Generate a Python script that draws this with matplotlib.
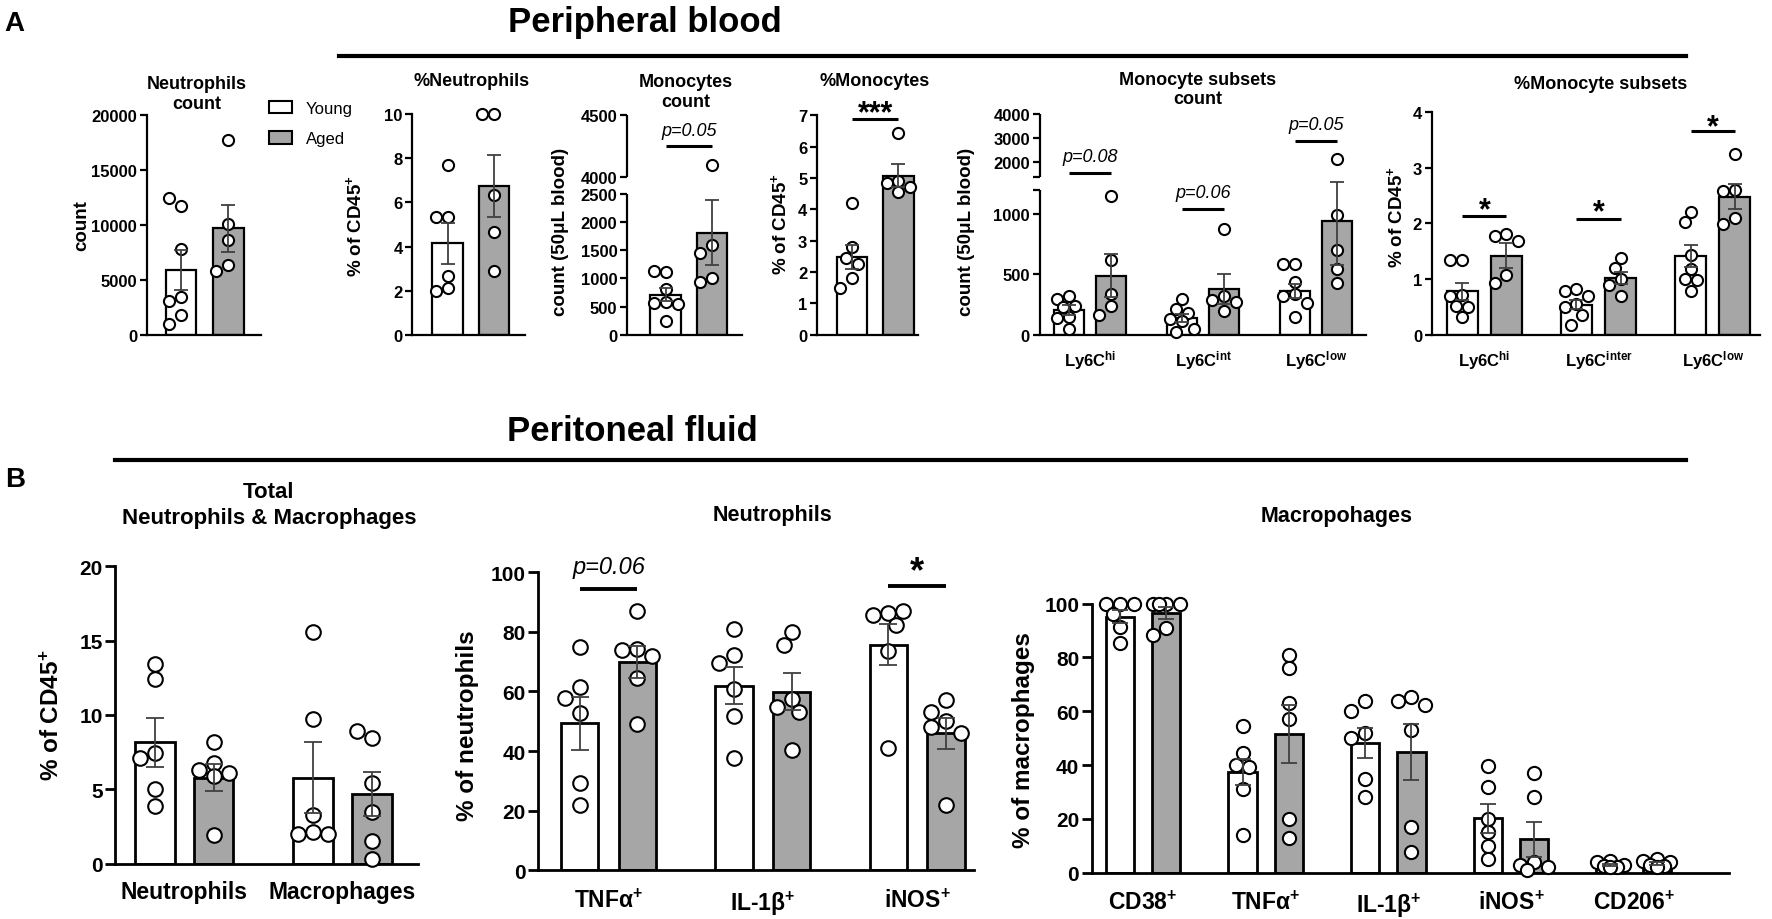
import numpy as np
import matplotlib
matplotlib.use('Agg')
import matplotlib.pyplot as plt
from matplotlib.patches import Patch
from matplotlib.lines import Line2D
from matplotlib.font_manager import FontProperties

plt.rcParams['mathtext.default'] = 'regular'
SANS = ['Liberation Sans', 'DejaVu Sans']
plt.rcParams['font.family'] = SANS

GRAY = '#a6a6a6'
ECOL = '#404040'

# ======================= DATA =======================
groups = ['Young', 'Aged']

# A1 Neutrophils count
a1_ticks = [0, 5000, 10000, 15000, 20000]
a1_mean_y = [5900]; a1_sem_y = [1800]
a1_mean_a = [9700]; a1_sem_a = [2150]
a1_pts_y = [[11700, 12500, 7800, 3400, 3100, 1800, 1000]]
a1_pts_a = [[17800, 10100, 8600, 6400, 5800]]

# A2 %Neutrophils
a2_ticks = [0, 2, 4, 6, 8, 10]
a2_mean_y = [4.15]; a2_sem_y = [0.93]
a2_mean_a = [6.75]; a2_sem_a = [1.40]
a2_pts_y = [[7.7, 5.35, 5.35, 2.65, 2.1, 2.0]]
a2_pts_a = [[10, 10, 6.35, 4.65, 2.9]]

# A3 Monocytes count (broken axis)
a3_ticks = [0, 500, 1000, 1500, 2000, 2500, 4000, 4500]
a3_mean_y = [710]; a3_sem_y = [120]
a3_mean_a = [1815]; a3_sem_a = [580]
a3_pts_y = [[1120, 1140, 820, 580, 570, 540, 240]]
a3_pts_a = [[4100, 1590, 1450, 1000, 940]]
a3_sig = ['p=0.05']; a3_sig_line = [4250]; a3_sig_text = [4380]

# A4 %Monocytes
a4_ticks = [0, 1, 2, 3, 4, 5, 6, 7]
a4_mean_y = [2.48]; a4_sem_y = [0.38]
a4_mean_a = [5.08]; a4_sem_a = [0.36]
a4_pts_y = [[4.2, 2.8, 2.45, 2.25, 1.8, 1.5]]
a4_pts_a = [[6.45, 4.9, 4.85, 4.7, 4.55]]
a4_sig = ['***']; a4_sig_line = [6.89]; a4_sig_text = [7.37]

# A5 Monocyte subsets count (broken axis)
a5_cats = ['Ly6C$^{hi}$', 'Ly6C$^{int}$', 'Ly6C$^{low}$']
a5_ticks = [0, 500, 1000, 1200, 1400, 2000, 3000, 4000]
a5_ticklabels = ['0', '500', '1000', '', '', '2000', '3000', '4000']
a5_mean_y = [205, 140, 365]; a5_sem_y = [38, 35, 60]
a5_mean_a = [490, 380, 945]; a5_sem_a = [180, 125, 370]
a5_pts_y = [[320, 300, 240, 230, 150, 140, 45],
            [300, 210, 180, 130, 110, 50, 25],
            [585, 585, 435, 335, 320, 265, 150]]
a5_pts_a = [[1150, 620, 335, 240, 165],
            [880, 320, 290, 270, 200],
            [2150, 990, 700, 545, 430]]
a5_sig = ['p=0.08', 'p=0.06', 'p=0.05']
a5_sig_line = [1540, 1047, 2896]
a5_sig_text = [2240, 1179, 3570]

# A6 %Monocyte subsets
a6_cats = ['Ly6C$^{hi}$', 'Ly6C$^{inter}$', 'Ly6C$^{low}$']
a6_ticks = [0, 1, 2, 3, 4]
a6_mean_y = [0.78, 0.54, 1.42]; a6_sem_y = [0.15, 0.08, 0.20]
a6_mean_a = [1.42, 1.02, 2.48]; a6_sem_a = [0.23, 0.11, 0.22]
a6_pts_y = [[1.35, 1.35, 0.72, 0.70, 0.52, 0.50, 0.32],
            [0.82, 0.78, 0.70, 0.55, 0.50, 0.35, 0.18],
            [2.2, 2.02, 1.43, 1.18, 1.0, 0.98, 0.79]]
a6_pts_a = [[1.81, 1.77, 1.68, 1.07, 0.92],
            [1.38, 1.2, 1.0, 0.9, 0.7],
            [3.25, 2.6, 2.58, 2.09, 1.98]]
a6_sig = ['*', '*', '*']
a6_sig_line = [2.13, 2.07, 3.66]
a6_sig_text = [2.41, 2.38, 3.90]

# B1 Total neutrophils & macrophages
b1_cats = ['Neutrophils', 'Macrophages']
b1_ticks = [0, 5, 10, 15, 20]
b1_mean_y = [8.18, 5.78]; b1_sem_y = [1.65, 2.38]
b1_mean_a = [5.78, 4.68]; b1_sem_a = [0.90, 1.50]
b1_pts_y = [[12.4, 13.4, 7.45, 7.1, 5.0, 3.9], [15.6, 9.7, 3.3, 2.1, 2.0, 2.0]]
b1_pts_a = [[8.2, 6.8, 6.3, 6.1, 5.9, 1.9], [8.45, 8.95, 5.45, 3.45, 1.5, 0.3]]

# B2 Neutrophils
b2_cats = ['TNFα$^{+}$', 'IL-1β$^{+}$', 'iNOS$^{+}$']
b2_ticks = [0, 20, 40, 60, 80, 100]
b2_mean_y = [49.3, 61.9, 75.7]; b2_sem_y = [8.8, 6.2, 6.8]
b2_mean_a = [69.8, 59.8, 46.0]; b2_sem_a = [5.3, 6.2, 5.2]
b2_pts_y = [[74.8, 61.5, 57.8, 52.6, 29.4, 22],
            [80.8, 72.3, 69.4, 60.9, 51.6, 37.6],
            [86.1, 85.6, 87, 82.3, 73.6, 41]]
b2_pts_a = [[86.8, 74.2, 73.8, 71.7, 64.5, 49],
            [80, 75.7, 57.3, 54.7, 53, 40.5],
            [57, 53, 50, 48, 46, 22]]
b2_sig = ['p=0.06', '*']
b2_sig_group = [0, 2]
b2_sig_line = [94.2, 95.4]
b2_sig_text = [101.8, 103.8]

# B3 Macrophages
b3_cats = ['CD38$^{+}$', 'TNFα$^{+}$', 'IL-1β$^{+}$', 'iNOS$^{+}$', 'CD206$^{+}$']
b3_ticks = [0, 20, 40, 60, 80, 100]
b3_mean_y = [95.2, 37.3, 48.2, 20.3, 3.0]; b3_sem_y = [2.4, 4.8, 5.6, 5.4, 0.4]
b3_mean_a = [96.5, 51.7, 44.9, 12.5, 3.5]; b3_sem_a = [2.1, 10.8, 10.5, 6.5, 0.5]
b3_pts_y = [[100, 100, 100, 96, 91.5, 85.5],
            [54.5, 44.6, 40.2, 39.4, 31, 14],
            [64, 60, 52, 50, 34.7, 28.2],
            [39.5, 32, 20, 15, 10, 5],
            [4.5, 4, 3, 2.5, 2, 2]]
b3_pts_a = [[100, 100, 100, 100, 91, 88.5],
            [81, 76, 63, 57, 20, 13],
            [65.3, 64, 62.5, 53, 17, 7.5],
            [37, 28, 4, 3, 2, 1],
            [5, 4.5, 4, 3, 2.5, 2]]

# ======================= LAYOUT HELPERS =======================
fig = plt.figure(figsize=(17.72, 9.2), dpi=100)
PW, PH = 1568.0, 814.0


def fx(x):
    return x / PW


def fy(y):
    return 1 - y / PH


def new_ax(x0, x1, ytop, ybot):
    ax = fig.add_axes([fx(x0), fy(ybot), fx(x1) - fx(x0), fy(ytop) - fy(ybot)])
    ax.set_xlim(x0, x1)
    ax.patch.set_alpha(0)
    return ax


def piecewise(vals, disp):
    v = np.asarray(vals, float)
    d = np.asarray(disp, float)
    return (lambda x: np.interp(x, v, d)), (lambda y: np.interp(y, d, v))


def style(ax, lw, fs, ticks, labels=None, tlen=5):
    ax.spines[['top', 'right']].set_visible(False)
    ax.spines[['left', 'bottom']].set_linewidth(lw)
    ax.tick_params(axis='y', width=lw, length=tlen, pad=2)
    ax.tick_params(axis='x', length=0)
    if labels is None:
        labels = [f'{t:g}' for t in ticks]
    ax.set_yticks(ticks, labels=labels, fontweight='bold', fontsize=fs)


def swarm_x(ax, xc, vals, d):
    tr = ax.transData
    inv = tr.inverted()
    placed = []
    out = []
    for v in vals:
        X, Y = tr.transform((xc, v))
        best, best_score = X, -1.0
        for k in (0, -0.45, 0.45, -0.9, 0.9):
            cand = X + k * d
            mind = min([np.hypot(cand - a, Y - b) for a, b in placed] + [1e9])
            if mind >= 0.85 * d:
                best = cand
                break
            if mind > best_score + 0.5:
                best, best_score = cand, mind
        placed.append((best, Y))
        out.append(inv.transform((best, Y))[0])
    return out


def draw_panel(ax, first, pair, gap, bw, my, sy, ma, sa, py, pa, ms, lw, cap):
    n = len(my)
    xy = [first + i * gap for i in range(n)]
    xa = [x + pair for x in xy]
    ax.bar(xy, my, width=bw, color='white', edgecolor='black', linewidth=lw, zorder=2)
    ax.bar(xa, ma, width=bw, color=GRAY, edgecolor='black', linewidth=lw, zorder=2)
    d = (ms + 1.5) * fig.dpi / 72.0
    for xs_, pts_ in ((xy, py), (xa, pa)):
        for xc, vals in zip(xs_, pts_):
            xj = swarm_x(ax, xc, vals, d)
            ax.plot(xj, vals, linestyle='none', marker='o', ms=ms, mfc='white',
                    mec='black', mew=1.5, zorder=3, clip_on=False)
    for xs_, m_, s_ in ((xy, my, sy), (xa, ma, sa)):
        ax.errorbar(xs_, m_, yerr=s_, fmt='none', ecolor=ECOL, elinewidth=1.3,
                    capsize=cap, capthick=1.3, zorder=4)
    return xy, xa


def sig(ax, x1, x2, yline, ytext, label, fs, lw):
    ax.plot([x1, x2], [yline, yline], color='black', lw=lw, solid_capstyle='butt',
            clip_on=False, zorder=5)
    xm = (x1 + x2) / 2
    if label.startswith('*'):
        ax.annotate(label, xy=(xm, ytext), xytext=(0, -0.58 * fs), textcoords='offset points',
                    ha='center', va='baseline', fontsize=fs, fontweight='bold',
                    annotation_clip=False)
    else:
        ax.text(xm, ytext, label, ha='center', va='center', fontsize=fs, style='italic',
                clip_on=False)


def ftext(x, y, s, fs, weight='bold', rot=0, ls=1.2, ha='center'):
    fig.text(fx(x), fy(y), s, ha=ha, va='center', fontsize=fs, fontweight=weight,
             rotation=rot, linespacing=ls)


def broken_spine(ax, segs, lw):
    ax.spines['left'].set_visible(False)
    for lo, hi in segs:
        ax.plot([0, 0], [lo, hi], transform=ax.get_yaxis_transform(), color='black',
                lw=lw, clip_on=False, solid_capstyle='butt')


# ======================= HEADERS =======================
ftext(13, 21, 'A', 20)
ftext(571, 20, 'Peripheral blood', 25)
fig.add_artist(Line2D([fx(300), fx(1492)], [fy(50), fy(50)], color='black', lw=3,
                      transform=fig.transFigure))
ftext(13, 425, 'B', 20)
ftext(560, 382, 'Peritoneal fluid', 25)
fig.add_artist(Line2D([fx(102), fx(1492)], [fy(408), fy(408)], color='black', lw=3,
                      transform=fig.transFigure))

LWA, FSA, MSA, CAPA, BWA = 1.6, 12, 8, 5, 27
TFA, YFA, PFA, SFA = 13, 13.5, 13, 22
LWB, FSB, MSB, CAPB = 2.0, 15, 10.5, 6.5
XFB, TFB, YFB = 16.5, 15.5, 17.5

# ======================= ROW A =======================
# A1
ax = new_ax(130, 231, 103, 297)
ax.set_ylim(0, 20000)
style(ax, LWA, FSA, a1_ticks)
ax.set_xticks([])
draw_panel(ax, 160, 42, 0, BWA, a1_mean_y, a1_sem_y, a1_mean_a, a1_sem_a,
           a1_pts_y, a1_pts_a, MSA, LWA, CAPA)
ftext(174, 83.5, 'Neutrophils\ncount', TFA, ls=1.2)
ftext(72, 200, 'count', YFA, rot=90)
fig.legend([Patch(facecolor='white', edgecolor='black', linewidth=1.5),
            Patch(facecolor=GRAY, edgecolor='black', linewidth=1.5)], groups,
           loc='upper left', bbox_to_anchor=(fx(238), fy(90)), frameon=False,
           prop=FontProperties(family=SANS, size=12), handlelength=1.4, handleheight=0.8,
           labelspacing=0.9, handletextpad=0.8, borderaxespad=0, borderpad=0)

# A2
ax = new_ax(365, 465, 102, 297)
ax.set_ylim(0, 10)
style(ax, LWA, FSA, a2_ticks)
ax.set_xticks([])
draw_panel(ax, 396, 41, 0, BWA, a2_mean_y, a2_sem_y, a2_mean_a, a2_sem_a,
           a2_pts_y, a2_pts_a, MSA, LWA, CAPA)
ftext(417, 72, '%Neutrophils', TFA)
ftext(314, 200, '% of CD45$^{+}$', YFA, rot=90)

# A3
ax = new_ax(555, 657, 103, 297)
ax.set_yscale('function', functions=piecewise([-1e5, 0, 2500, 4000, 4500, 1e5],
                                              [-16800, 0, 420, 470, 655, 655 + 95500 * 0.37]))
ax.set_ylim(0, 4500)
style(ax, LWA, FSA, a3_ticks)
ax.set_xticks([])
broken_spine(ax, [(0, 2500), (4000, 4500)], LWA)
xy, xa = draw_panel(ax, 589, 41, 0, BWA, a3_mean_y, a3_sem_y, a3_mean_a, a3_sem_a,
                    a3_pts_y, a3_pts_a, MSA, LWA, CAPA)
for i in range(len(a3_sig)):
    sig(ax, xy[i], xa[i], a3_sig_line[i], a3_sig_text[i], a3_sig[i], PFA, 2.2)
ftext(607, 82, 'Monocytes\ncount', TFA, ls=1.2)
ftext(496, 205, 'count (50μL blood)', YFA, rot=90)

# A4
ax = new_ax(723, 812, 103, 297)
ax.set_ylim(0, 7)
style(ax, LWA, FSA, a4_ticks)
ax.set_xticks([])
xy, xa = draw_panel(ax, 754, 41, 0, BWA, a4_mean_y, a4_sem_y, a4_mean_a, a4_sem_a,
                    a4_pts_y, a4_pts_a, MSA, LWA, CAPA)
for i in range(len(a4_sig)):
    sig(ax, xy[i], xa[i], a4_sig_line[i], a4_sig_text[i], a4_sig[i], SFA, 2.2)
ftext(774, 72, '%Monocytes', TFA)
ftext(690, 198, '% of CD45$^{+}$', YFA, rot=90)

# A5
ax = new_ax(920, 1209, 102, 297)
ax.set_yscale('function', functions=piecewise([-1e5, 0, 1200, 1400, 4000, 1e5],
                                              [-35800, 0, 430, 470, 656, 656 + 96000 * 0.0715]))
ax.set_ylim(0, 4000)
style(ax, LWA, FSA, a5_ticks, a5_ticklabels)
broken_spine(ax, [(0, 1200), (1400, 4000)], LWA)
xy, xa = draw_panel(ax, 946, 37, 100, BWA, a5_mean_y, a5_sem_y, a5_mean_a, a5_sem_a,
                    a5_pts_y, a5_pts_a, MSA, LWA, CAPA)
ax.set_xticks([(a + b) / 2 for a, b in zip(xy, xa)], labels=a5_cats, fontsize=FSA,
              fontweight='bold')
ax.tick_params(axis='x', length=0, pad=10)
for i in range(len(a5_sig)):
    sig(ax, xy[i], xa[i], a5_sig_line[i], a5_sig_text[i], a5_sig[i], PFA, 2.2)
ftext(1060, 80, 'Monocyte subsets\ncount', TFA, ls=1.15)
ftext(855, 205, 'count (50μL blood)', YFA, rot=90)

# A6
ax = new_ax(1267, 1557, 100, 297)
ax.set_ylim(0, 4)
style(ax, LWA, FSA, a6_ticks)
xy, xa = draw_panel(ax, 1294, 39, 101, BWA, a6_mean_y, a6_sem_y, a6_mean_a, a6_sem_a,
                    a6_pts_y, a6_pts_a, MSA, LWA, CAPA)
ax.set_xticks([(a + b) / 2 for a, b in zip(xy, xa)], labels=a6_cats, fontsize=FSA,
              fontweight='bold')
ax.tick_params(axis='x', length=0, pad=10)
for i in range(len(a6_sig)):
    sig(ax, xy[i], xa[i], a6_sig_line[i], a6_sig_text[i], a6_sig[i], SFA, 2.2)
ftext(1416, 75, '%Monocyte subsets', TFA)
ftext(1235, 192, '% of CD45$^{+}$', YFA, rot=90)

# ======================= ROW B =======================
# B1
ax = new_ax(102, 370, 502, 765)
ax.set_ylim(0, 20)
style(ax, LWB, FSB, b1_ticks, tlen=7)
xy, xa = draw_panel(ax, 137, 52, 140, 35, b1_mean_y, b1_sem_y, b1_mean_a, b1_sem_a,
                    b1_pts_y, b1_pts_a, MSB, LWB, CAPB)
ax.set_xticks([(a + b) / 2 for a, b in zip(xy, xa)], labels=b1_cats, fontsize=XFB,
              fontweight='bold')
ax.tick_params(axis='x', length=0, pad=12)
ftext(238, 447, 'Total\nNeutrophils & Macrophages', 16, ls=1.3)
ftext(46, 633, '% of CD45$^{+}$', YFB, rot=90)

# B2
ax = new_ax(476, 862, 507, 771)
ax.set_ylim(0, 100)
style(ax, LWB, FSB, b2_ticks, tlen=7)
xy, xa = draw_panel(ax, 513, 51, 136.6, 33, b2_mean_y, b2_sem_y, b2_mean_a, b2_sem_a,
                    b2_pts_y, b2_pts_a, MSB, LWB, CAPB)
ax.set_xticks([(a + b) / 2 for a, b in zip(xy, xa)], labels=b2_cats, fontsize=XFB,
              fontweight='bold')
ax.tick_params(axis='x', length=0, pad=13)
for lab, g, yl, yt in zip(b2_sig, b2_sig_group, b2_sig_line, b2_sig_text):
    sig(ax, xy[g], xa[g], yl, yt, lab, 17 if lab.startswith('p') else 26, 2.8)
ftext(684, 456, 'Neutrophils', TFB)
ftext(414, 642, '% of neutrophils', YFB, rot=90)

# B3
ax = new_ax(966, 1530, 535, 773)
ax.set_ylim(0, 100)
style(ax, LWB, FSB, b3_ticks, tlen=7)
xy, xa = draw_panel(ax, 991, 41, 108.5, 25, b3_mean_y, b3_sem_y, b3_mean_a, b3_sem_a,
                    b3_pts_y, b3_pts_a, 9.5, LWB, 5.5)
ax.set_xticks([(a + b) / 2 for a, b in zip(xy, xa)], labels=b3_cats, fontsize=XFB,
              fontweight='bold')
ax.tick_params(axis='x', length=0, pad=13)
ftext(1183, 457, 'Macropohages', TFB)
ftext(906, 655, '% of macrophages', YFB, rot=90)

fig.savefig('out.png', dpi=100)
